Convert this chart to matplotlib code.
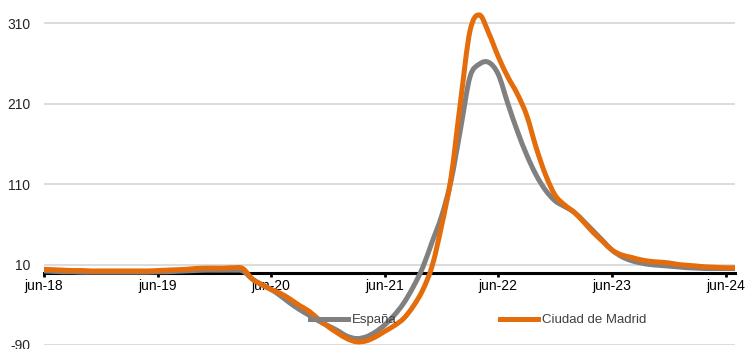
import numpy as np
import matplotlib.pyplot as plt
from matplotlib.path import Path
from matplotlib.patches import PathPatch
from matplotlib.lines import Line2D

plt.rcParams['axes.unicode_minus'] = False
plt.rcParams['font.family'] = ['Liberation Sans', 'DejaVu Sans']

# Monthly series, jun-18 .. jul-24
espana = [2, 1.5, 1, 1, 0.5, 0.5, 0.5, 0.5, 0.5, 0.5, 0.5, 0.5,
          1, 1, 1.5, 2, 2.5, 3, 3, 3, 3, 2, -8, -15,
          -21, -29, -38, -46, -53, -60, -66, -72, -79, -82, -80, -74,
          -65, -53, -38, -18, 6, 38, 70, 114, 178, 243, 259, 261,
          246, 210, 176, 146, 121, 102, 89, 82, 75, 64, 52, 40,
          28, 20, 15, 12, 10, 9, 8, 7, 6, 5.5, 5, 5, 5, 5]
madrid = [4, 3.5, 3, 2.5, 2.5, 2, 2, 2, 2, 2, 2, 2,
          2.5, 3, 3.5, 4, 5, 5.5, 5.5, 5.5, 6, 5, -8, -15,
          -21, -26, -33, -41, -48, -58, -67, -75, -82, -86, -85, -80,
          -73, -66, -57, -42, -22, 8, 58, 118, 212, 300, 320, 297,
          268, 243, 222, 195, 155, 121, 96, 84, 75, 63, 50, 39,
          28, 22, 19, 16, 14, 13, 12, 10, 9, 8, 7, 6.5, 6, 6]
tick_labels = ['jun-18', 'jun-19', 'jun-20', 'jun-21', 'jun-22', 'jun-23', 'jun-24']
y_ticks = [-90, 10, 110, 210, 310]

GRAY = '#808080'
ORANGE = '#E46C0A'


def smooth_path(x, y):
    # smoothed line through the points as cubic bezier segments
    p = np.column_stack([x, y]).astype(float)
    ext = np.vstack([p[0], p, p[-1]])
    verts = [p[0]]
    codes = [Path.MOVETO]
    for i in range(len(p) - 1):
        c1 = ext[i + 1] + (ext[i + 2] - ext[i]) / 6
        c2 = ext[i + 2] - (ext[i + 3] - ext[i + 1]) / 6
        verts += [c1, c2, p[i + 1]]
        codes += [Path.CURVE4] * 3
    return Path(verts, codes)


months = np.arange(len(espana))

fig = plt.figure(figsize=(7.49, 3.49), dpi=100)
ax = fig.add_axes([44 / 749, 1 - 345 / 349, (735 - 44) / 749, 345 / 349])

for vals, col in [(espana, GRAY), (madrid, ORANGE)]:
    ax.add_patch(PathPatch(smooth_path(months, vals), facecolor='none', edgecolor=col,
                           lw=3.6, capstyle='round', joinstyle='round', zorder=2))

ax.set_xlim(0, 73)
ax.set_ylim(-90, 338.6)
ax.set_yticks(y_ticks)
ax.set_xticks(np.arange(0, 73, 12))
ax.set_xticklabels(tick_labels, fontweight='bold', fontsize=9.5)
ax.grid(axis='y', color='#D9D9D9', lw=1.3)
ax.set_axisbelow(True)

for s in ['top', 'right', 'left']:
    ax.spines[s].set_visible(False)
ax.spines['bottom'].set_position(('data', 0))
ax.spines['bottom'].set_linewidth(2.2)
ax.spines['bottom'].set_zorder(1.5)
ax.tick_params(axis='x', direction='out', length=3, width=2, pad=2, colors='black')
ax.tick_params(axis='y', length=0, pad=10, labelsize=10, labelcolor='#262626')

handles = [Line2D([], [], color=GRAY, lw=3.6), Line2D([], [], color=ORANGE, lw=3.6)]
leg = fig.legend(handles, ['España', 'Ciudad de Madrid'], loc='center left',
                 bbox_to_anchor=(310 / 749, 1 - 320 / 349),
                 ncol=2, frameon=False, fontsize=9.5, handlelength=2.9,
                 handletextpad=0.3, columnspacing=7.8, borderpad=0, borderaxespad=0)
for t in leg.get_texts():
    t.set_color('#404040')

fig.savefig('out.png', dpi=100)
